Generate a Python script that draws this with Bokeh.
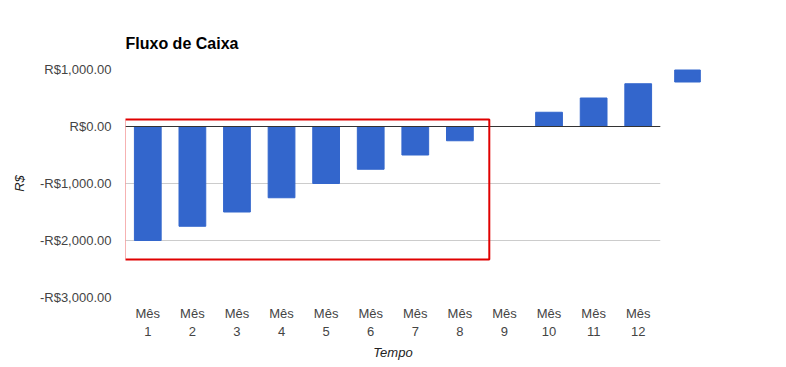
from bokeh.plotting import figure
from bokeh.models import (ColumnDataSource, FactorRange, Range1d, FixedTicker, Span,
                          BoxAnnotation, Legend, LegendItem, CategoricalAxis,
                          CustomJSTickFormatter)
from bokeh.embed import file_html
from bokeh.resources import INLINE

# ---- data ----
months = ["Mês 1", "Mês 2", "Mês 3", "Mês 4", "Mês 5", "Mês 6",
          "Mês 7", "Mês 8", "Mês 9", "Mês 10", "Mês 11", "Mês 12"]
month_word = ["Mês"] * 12
month_number = ["1", "2", "3", "4", "5", "6", "7", "8", "9", "10", "11", "12"]
cash_flow = [-2000, -1750, -1500, -1250, -1000, -750, -500, -250, 0, 250, 500, 750]
y_ticks = [-3000, -2000, -1000, 0, 1000]
y_tick_labels = ["-R$3,000.00", "-R$2,000.00", "-R$1,000.00", "R$0.00", "R$1,000.00"]

FONT = "Liberation Sans"
BLUE = "#3366cc"

src = ColumnDataSource(dict(month=months, value=cash_flow))

p = figure(frame_width=535, frame_height=228, output_backend="svg", toolbar_location=None,
           x_range=FactorRange(*months), y_range=Range1d(-3000, 1000),
           min_border_left=125, min_border_right=60, min_border_top=69,
           min_border_bottom=65)

bars = p.vbar(x="month", top="value", bottom=0, width=0.6, color=BLUE, source=src)

# title
p.title.text = "Fluxo de Caixa"
p.title.text_font = FONT
p.title.text_font_size = "16px"
p.title.text_font_style = "bold"
p.title.text_color = "#000000"
p.title.align = "left"
p.title.offset = 0
p.title.standoff = 35

# axes
p.outline_line_color = None
p.xgrid.grid_line_color = None
p.ygrid.grid_line_color = "#cccccc"
p.yaxis.ticker = FixedTicker(ticks=y_ticks)
p.yaxis.major_label_overrides = {t: l for t, l in zip(y_ticks, y_tick_labels)}

map_js = "const i = factors.indexOf(tick); return i >= 0 ? labels[i] : tick;"
p.xaxis.formatter = CustomJSTickFormatter(args=dict(factors=months, labels=month_word),
                                          code=map_js)
x2 = CategoricalAxis(formatter=CustomJSTickFormatter(
    args=dict(factors=months, labels=month_number), code=map_js))
p.add_layout(x2, "below")

for ax in (p.xaxis[0], x2, p.yaxis[0]):
    ax.axis_line_color = None
    ax.major_tick_line_color = None
    ax.minor_tick_line_color = None
    ax.major_tick_out = 0
    ax.major_tick_in = 0
    ax.major_label_text_font = FONT
    ax.major_label_text_font_size = "13px"
    ax.major_label_text_color = "#444444"
    ax.axis_label_text_font = FONT
    ax.axis_label_text_font_size = "13px"
    ax.axis_label_text_font_style = "italic"
    ax.axis_label_text_color = "#222222"
p.yaxis.major_label_standoff = 14
p.xaxis[0].major_label_standoff = 8
x2.major_label_standoff = 3
x2.axis_label = "Tempo"
x2.axis_label_standoff = 6
p.yaxis.axis_label = "R$"
p.yaxis.axis_label_standoff = 10

# baseline
p.add_layout(Span(location=0, dimension="width", line_color="#333333", line_width=1))

# red highlight box
p.add_layout(BoxAnnotation(left=-0.02, right=8.16, top=123, bottom=-2333,
                           fill_color=None, line_color="#e00000", line_alpha=1.0,
                           line_width=2))

# legend swatch without text
legend = Legend(items=[LegendItem(label=" ", renderers=[bars])],
                location=(11, 214), glyph_width=32, glyph_height=15,
                label_text_font_size="1px", label_width=0, label_standoff=0,
                padding=0, margin=0, border_line_color=None,
                background_fill_alpha=0)
p.add_layout(legend, "right")

open("out.html", "w").write(file_html(p, INLINE))
